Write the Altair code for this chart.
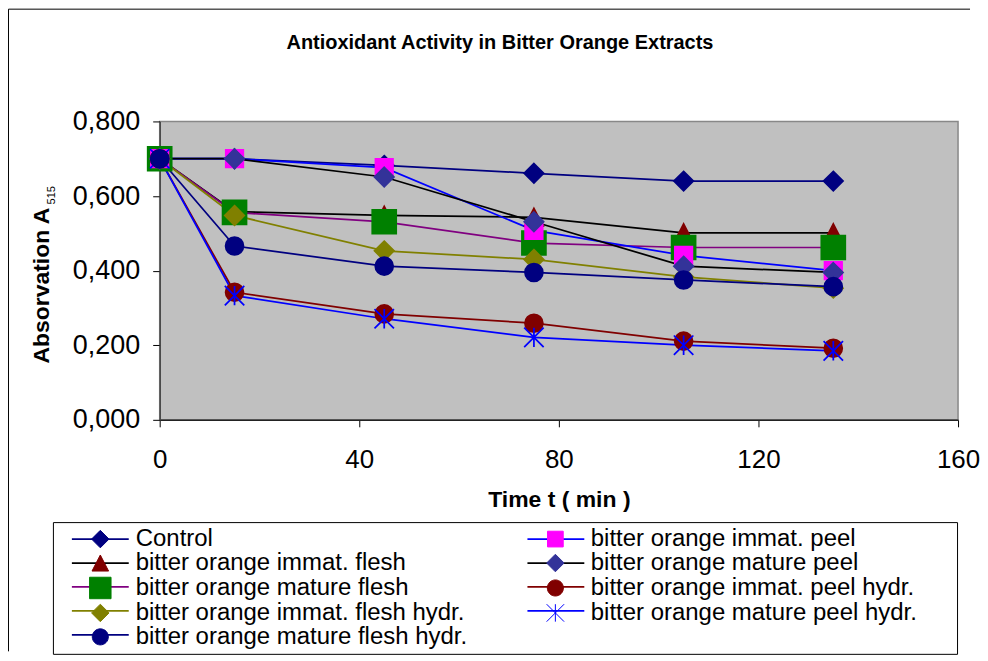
import altair as alt
import pandas as pd

FONT = "Liberation Sans"

# ---------------- data ----------------
TIME = [0, 15, 45, 75, 105, 135]

CONTROL            = [0.700, 0.700, 0.682, 0.661, 0.640, 0.640]
IMMAT_FLESH        = [0.700, 0.558, 0.548, 0.543, 0.501, 0.501]
MATURE_FLESH       = [0.700, 0.556, 0.531, 0.474, 0.462, 0.462]
IMMAT_FLESH_HYDR   = [0.700, 0.548, 0.453, 0.430, 0.383, 0.353]
MATURE_FLESH_HYDR  = [0.700, 0.466, 0.412, 0.395, 0.375, 0.357]
IMMAT_PEEL         = [0.700, 0.700, 0.676, 0.508, 0.441, 0.400]
MATURE_PEEL        = [0.700, 0.700, 0.651, 0.531, 0.412, 0.395]
IMMAT_PEEL_HYDR    = [0.700, 0.342, 0.284, 0.259, 0.211, 0.192]
MATURE_PEEL_HYDR   = [0.700, 0.333, 0.271, 0.221, 0.200, 0.185]

# legend order (the legend fills column by column)
SERIES = [
    "Control",
    "bitter orange immat. flesh",
    "bitter orange mature flesh",
    "bitter orange immat. flesh hydr.",
    "bitter orange mature flesh hydr.",
    "bitter orange immat. peel",
    "bitter orange mature peel",
    "bitter orange immat. peel hydr.",
    "bitter orange mature peel hydr.",
]
SERIES_VALUES = {
    "Control": CONTROL,
    "bitter orange immat. flesh": IMMAT_FLESH,
    "bitter orange mature flesh": MATURE_FLESH,
    "bitter orange immat. flesh hydr.": IMMAT_FLESH_HYDR,
    "bitter orange mature flesh hydr.": MATURE_FLESH_HYDR,
    "bitter orange immat. peel": IMMAT_PEEL,
    "bitter orange mature peel": MATURE_PEEL,
    "bitter orange immat. peel hydr.": IMMAT_PEEL_HYDR,
    "bitter orange mature peel hydr.": MATURE_PEEL_HYDR,
}
# drawing order (last one on top)
DRAW_ORDER = [
    "Control",
    "bitter orange immat. flesh",
    "bitter orange mature flesh",
    "bitter orange immat. flesh hydr.",
    "bitter orange immat. peel",
    "bitter orange mature peel",
    "bitter orange immat. peel hydr.",
    "bitter orange mature peel hydr.",
    "bitter orange mature flesh hydr.",
]

LINE_COLOR = {
    "Control": "#000080",
    "bitter orange immat. peel": "#0000FF",
    "bitter orange immat. flesh": "#000000",
    "bitter orange mature peel": "#000000",
    "bitter orange mature flesh": "#800080",
    "bitter orange immat. peel hydr.": "#800000",
    "bitter orange immat. flesh hydr.": "#808000",
    "bitter orange mature peel hydr.": "#0000FF",
    "bitter orange mature flesh hydr.": "#000080",
}
MARKER_COLOR = {
    "Control": "#000080",
    "bitter orange immat. peel": "#FF00FF",
    "bitter orange immat. flesh": "#800000",
    "bitter orange mature peel": "#333399",
    "bitter orange mature flesh": "#008000",
    "bitter orange immat. peel hydr.": "#800000",
    "bitter orange immat. flesh hydr.": "#808000",
    "bitter orange mature peel hydr.": "#0000FF",
    "bitter orange mature flesh hydr.": "#000080",
}

# marker paths (invisible move-tos give legend markers the same extent as the legend line)
EXT = "M-3.257,0M3.257,0"
DIAMOND = EXT + "M0,-1L1,0L0,1L-1,0Z"
SQ_BIG = EXT + "M-1.23,-1.23H1.23V1.23H-1.23Z"
SQ_SMALL = EXT + "M-0.9,-0.9H0.9V0.9H-0.9Z"
TRIANGLE = EXT + "M0,-0.92L0.95,0.92L-0.95,0.92Z"
CIRCLE = EXT + "M0.92,0A0.92,0.92,0,1,1,-0.92,0A0.92,0.92,0,1,1,0.92,0Z"
STAR = EXT + "M0,-1V1M-1,-1L1,1M-1,1L1,-1"
MARKER_SHAPE = {
    "Control": DIAMOND,
    "bitter orange immat. peel": SQ_SMALL,
    "bitter orange immat. flesh": TRIANGLE,
    "bitter orange mature peel": DIAMOND,
    "bitter orange mature flesh": SQ_BIG,
    "bitter orange immat. peel hydr.": CIRCLE,
    "bitter orange immat. flesh hydr.": DIAMOND,
    "bitter orange mature peel hydr.": STAR,
    "bitter orange mature flesh hydr.": CIRCLE,
}
LINE_SYMBOL = "M-3.257,0H3.257"

rows = []
for s in DRAW_ORDER:
    for t, v in zip(TIME, SERIES_VALUES[s]):
        rows.append({"series": s, "t": t, "v": v})
df = pd.DataFrame(rows)

REV = SERIES[::-1]

common_leg = dict(
    orient="none", legendX=-107, legendY=401.5, columns=2,
    symbolSize=306, symbolOffset=30.5, labelOffset=23.5,
    labelFont=FONT, labelFontSize=24, labelLimit=800, rowPadding=0,
    padding=5, values=SERIES,
)
# legend of the lines only (no text); its second column is placed under the marker legend's
leg_lines = alt.Legend(symbolType=LINE_SYMBOL, labelExpr="''", symbolStrokeWidth=1.75,
                       columnPadding=378.5, title=None, **common_leg)
# legend of the markers, with the labels and the frame (blank title widens the frame)
leg_marks = alt.Legend(labelColor="black", symbolStrokeWidth=1, columnPadding=45,
                       strokeColor="black", title=" ", titleOrient="right",
                       titlePadding=35, titleFontSize=10, **common_leg)

x_enc = alt.X("t:Q", scale=alt.Scale(domain=[0, 160], nice=False),
              axis=alt.Axis(values=[0, 40, 80, 120, 160], title="Time t ( min )",
                            labelFont=FONT, labelFontSize=26, labelColor="black",
                            labelPadding=20, labelFlush=False, tickSize=7, tickColor="black",
                            domainColor="#222222", domainWidth=1.5, grid=False,
                            titleFont=FONT, titleFontSize=23, titleFontWeight="bold",
                            titleColor="black", titleX=400, titleY=87,
                            titleBaseline="alphabetic", titleAlign="center"))
y_enc = alt.Y("v:Q", scale=alt.Scale(domain=[0, 0.8], nice=False),
              axis=alt.Axis(values=[0, 0.2, 0.4, 0.6, 0.8], title="Absorvation A",
                            labelExpr="replace(format(datum.value, '.3f'), '.', ',')",
                            labelFont=FONT, labelFontSize=27, labelColor="black",
                            labelPadding=13, labelFlush=False, tickSize=7, tickColor="black",
                            domainColor="#444444", domainWidth=1.5, grid=False,
                            titleFont=FONT, titleFontSize=23, titleFontWeight="bold",
                            titleColor="black", titleX=-111, titleY=164, titleAngle=270,
                            titleBaseline="alphabetic", titleAlign="center"))

lines = alt.Chart(df).mark_line(strokeWidth=1.75).encode(
    x=x_enc, y=y_enc,
    color=alt.Color("series:N",
                    scale=alt.Scale(domain=SERIES,
                                    range=[LINE_COLOR[s] for s in SERIES]),
                    legend=leg_lines),
)

points = alt.Chart(df).mark_point(filled=True, opacity=1, size=380, strokeWidth=1.75).encode(
    x="t:Q", y="v:Q",
    fill=alt.Fill("series:N",
                  scale=alt.Scale(domain=REV, range=[MARKER_COLOR[s] for s in REV]),
                  legend=leg_marks),
    stroke=alt.Stroke("series:N",
                      scale=alt.Scale(domain=REV, range=[MARKER_COLOR[s] for s in REV]),
                      legend=leg_marks),
    shape=alt.Shape("series:N",
                    scale=alt.Scale(domain=REV, range=[MARKER_SHAPE[s] for s in REV]),
                    legend=leg_marks),
)

one = alt.Data(values=[{"k": 1}])
frame_top = alt.Chart(one).mark_rule(color="black", strokeWidth=1).encode(
    x=alt.value(-151.5), x2=alt.value(812), y=alt.value(-112.5))
frame_left = alt.Chart(one).mark_rule(color="black", strokeWidth=1).encode(
    x=alt.value(-151.5), y=alt.value(-112.5), y2=alt.value(531))
subscript = alt.Chart(one).mark_text(font=FONT, fontSize=11, angle=270, align="center",
                                     baseline="alphabetic", color="black").encode(
    x=alt.value(-105), y=alt.value(74), text=alt.value("515"))

chart = alt.layer(frame_top, frame_left, lines, points, subscript).properties(
    width=800, height=299,
    padding={"left": 0, "top": 0, "right": 0, "bottom": 0},
    title=alt.Title("Antioxidant Activity in Bitter Orange Extracts", font=FONT,
                    fontSize=20, fontWeight="bold", color="black", anchor="middle",
                    offset=-60, baseline="alphabetic", dx=-59),
).configure_view(fill="#C0C0C0", stroke="#888888", strokeWidth=1.5)

chart.save("out.html", embed_options={"renderer": "svg", "actions": False})
